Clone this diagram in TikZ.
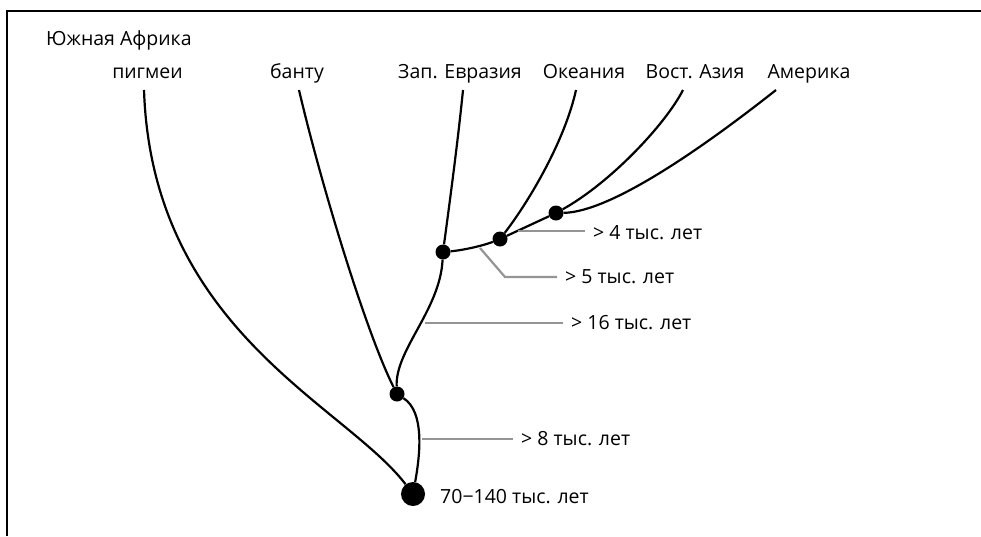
\documentclass[tikz,border=0pt]{standalone}
\usepackage{fontspec}
\setmainfont{Open Sans}
\usepackage[svgnames]{xcolor}
\usepackage{tikz}
\colorlet{branchLine}{black}
\colorlet{ageLine}{black!42}
\colorlet{frameLine}{black}

\begin{document}
\begin{tikzpicture}[
  x=1pt, y=-1pt,
  branch line/.style={
    draw=branchLine,
    line width=2.2pt,
  },
  age line/.style={
    draw=ageLine,
    line width=2.2pt,
  },
  split/.style={
    circle,
    fill=branchLine,
    inner sep=0pt,
    minimum size=15pt,
  },
  origin/.style={
    split,
    minimum size=24pt,
  },
  taxon/.style={
    anchor=base,
    inner sep=0pt,
    font=\fontsize{19.5}{22}\selectfont,
  },
  age/.style={
    anchor=west,
    inner xsep=8pt,
    inner ysep=0pt,
    font=\fontsize{19.5}{22}\selectfont,
  }
]
\useasboundingbox (0,0) rectangle (981,536);
\draw[draw=frameLine,line width=2pt] (7,536) -- (7,11) -- (981,11);

% split points
\node[origin] (root) at (413,494) {};
\node[split] (bantuS) at (397,394) {};
\node[split] (eurasS) at (443,252) {};
\node[split] (oceanS) at (500,239) {};
\node[split] (asiaS) at (556,213) {};

% populations
\node[taxon,anchor=base west] (safr) at (46,45) {Южная Африка};
\foreach \name/\x/\txt in {pyg/147.5/пигмеи,bantu/297/банту,euras/460/Зап. Евразия,
                           ocean/584/Океания,asia/695/Вост. Азия,amer/809/Америка}
  \node[taxon] (\name) at (\x,78) {\txt};
\foreach \name/\x in {pyg/144,bantu/299,euras/463,ocean/576,asia/683,amer/776}
  \coordinate (\name-top) at (\x,90);

% branches
\draw[branch line] (pyg-top) .. controls (152,330) and (345,405) .. (root);
\draw[branch line] (bantu-top) .. controls (320,180) and (365,330) .. (bantuS);
\draw[branch line] (bantuS) .. controls (425,412) and (420,455) .. (root);
\draw[branch line] (bantuS) .. controls (395,350) and (440,310) .. (eurasS);
\draw[branch line] (eurasS) .. controls (450,200) and (458,140) .. (euras-top);
\draw[branch line] (eurasS) .. controls (465,250) and (485,245) .. (oceanS);
\draw[branch line] (oceanS) .. controls (530,200) and (565,140) .. (ocean-top);
\draw[branch line] (oceanS) -- (asiaS);
\draw[branch line] (asiaS) .. controls (610,183) and (665,125) .. (asia-top);
\draw[branch line] (asiaS) .. controls (610,212) and (700,150) .. (amer-top);

% ages
\node[age] (a4) at (585,233) {> 4 тыс. лет};
\node[age] (a5) at (557,277) {> 5 тыс. лет};
\node[age] (a16) at (563,323) {> 16 тыс. лет};
\node[age] (a8) at (513,439) {> 8 тыс. лет};
\node[age] (a70) at (432,497) {70−140 тыс. лет};
\coordinate (y4) at (518,231);
\coordinate (y5) at (480,248);
\coordinate (y16) at (425,323);
\coordinate (y8) at (422,439);
\draw[age line] (y4) -- (y4 -| a4.west);
\draw[age line] (y5) -- ++(25,29) -- (a5.west);
\draw[age line] (y16) -- (a16.west);
\draw[age line] (y8) -- (a8.west);
\end{tikzpicture}
\end{document}
